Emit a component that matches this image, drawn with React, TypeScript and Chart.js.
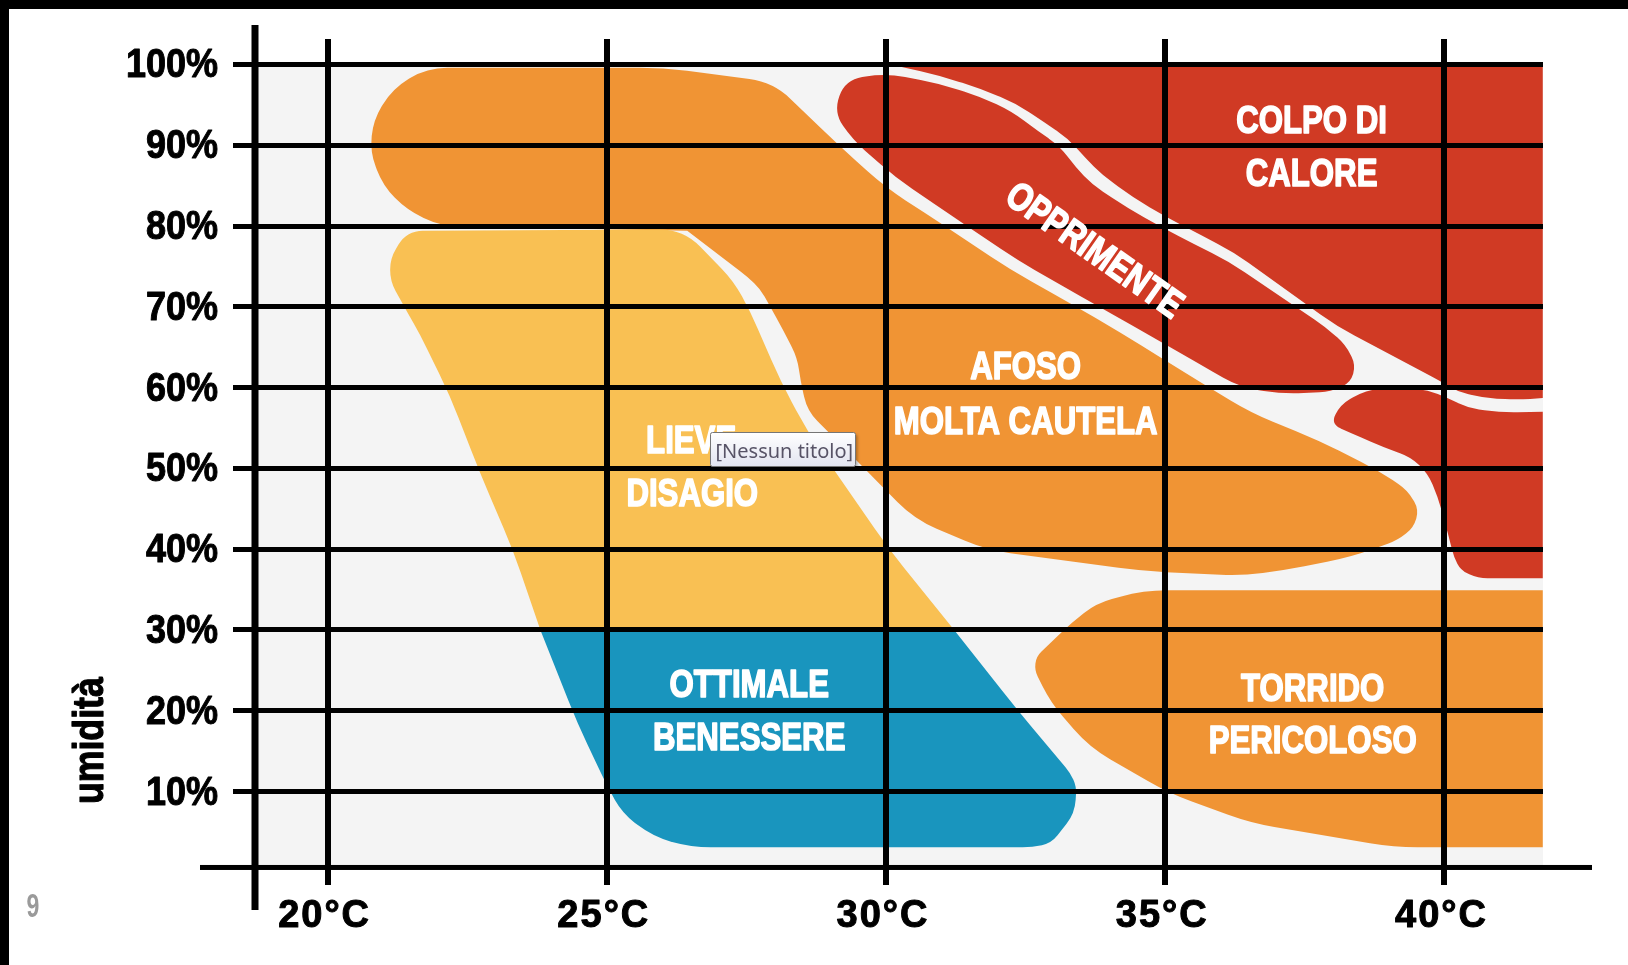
import React, { useEffect, useRef } from "react";
import { Chart, registerables } from "chart.js";

Chart.register(...registerables);

type Pt = [number, number];

// ---------- axes ----------
const X_TICKS = [20, 25, 30, 35, 40];
const X_TICK_LABELS = ["20°C", "25°C", "30°C", "35°C", "40°C"];
const Y_TICKS = [10, 20, 30, 40, 50, 60, 70, 80, 90, 100];
const Y_TICK_LABELS = ["10%", "20%", "30%", "40%", "50%", "60%", "70%", "80%", "90%", "100%"];
const X_MIN = 18.7;
const X_MAX = 41.764;
const Y_MIN = -1.57;
const Y_MAX = 103.15;
const AXIS_H = 0.6; // humidity level where the horizontal axis line sits
const TOP_H = 100; // top of the plotted field
const Y_TITLE = "umidità";
const PAGE_NUMBER = "9";
const OVERLAY_TEXT = "[Nessun titolo]";
const OVERLAY_T = 26.85;
const OVERLAY_H = 54.5;

// ---------- regions: [temperature °C, humidity %] ----------
const AFOSO_AREA: Pt[] = [
  [22.02, 80.0], [21.42, 82.0], [20.99, 85.0], [20.76, 89.2], [20.82, 93.1],
  [21.16, 97.0], [21.78, 99.6], [26.01, 99.6], [27.98, 97.8], [29.15, 90.0],
  [29.99, 84.8], [31.03, 80.1], [32.23, 74.6], [33.36, 70.2], [34.2, 66.8],
  [35.36, 61.8], [36.53, 56.9], [37.73, 53.5], [38.8, 49.8], [39.34, 47.3],
  [39.54, 44.9], [39.45, 42.7], [39.16, 41.1], [38.32, 39.0], [37.12, 37.4],
  [36.37, 36.7], [34.59, 37.3], [31.8, 39.9], [30.51, 43.7], [29.61, 50.0],
  [28.95, 54.6], [28.59, 57.1], [28.47, 60.8], [28.41, 63.7], [28.16, 67.1],
  [27.75, 72.2], [27.52, 73.7], [26.44, 79.4],
];

const LIEVE_AREA: Pt[] = [
  [21.42, 79.4], [26.37, 79.6], [27.27, 73.2], [27.57, 69.4], [28.11, 60.8],
  [28.59, 54.6], [30.04, 40.1], [31.22, 30.0], [23.81, 30.0], [23.32, 39.9],
  [22.73, 49.4], [22.19, 59.0], [21.66, 66.5], [21.42, 69.4], [21.12, 73.2],
  [21.12, 76.0],
];

const OTTIMALE_AREA: Pt[] = [
  [23.81, 30.0], [31.22, 30.0], [32.35, 20.1], [33.3, 12.3], [33.41, 10.6],
  [33.38, 7.3], [32.96, 3.6], [32.62, 3.1], [26.51, 3.1], [25.83, 4.4],
  [25.28, 7.3], [25.01, 10.6], [24.47, 18.5],
];

const TORRIDO_AREA: Pt[] = [
  [34.61, 34.9], [41.76, 34.9], [41.76, 3.1], [39.09, 3.1], [36.53, 6.1],
  [35.06, 9.8], [33.64, 15.5], [32.95, 21.0], [32.66, 25.0], [32.69, 26.7],
  [33.32, 30.9], [33.77, 33.3],
];

const COLPO_AREA: Pt[] = [
  [30.08, 100], [41.76, 100], [41.76, 58.7], [41.31, 58.5], [40.7, 58.7],
  [40.24, 59.5], [39.93, 60.8], [38.07, 67.6], [36.22, 76.8], [35.63, 78.9],
  [35.02, 81.1], [34.43, 83.5], [33.88, 86.3], [33.57, 88.4], [33.25, 90.9],
  [32.82, 92.9], [32.32, 95.2], [31.69, 97.0], [30.97, 98.6],
];

const OPPRIMENTE_AREA: Pt[] = [
  [29.27, 98.1], [29.99, 98.9], [30.97, 97.6], [31.69, 96.0], [32.25, 94.2],
  [32.71, 91.8], [33.11, 89.9], [33.39, 87.3], [33.7, 85.1], [34.33, 82.2],
  [34.92, 79.9], [35.53, 77.7], [36.14, 75.6], [37.87, 67.5], [38.23, 65.3],
  [38.41, 62.8], [38.32, 60.6], [37.96, 59.5], [37.12, 59.2], [36.35, 60.0],
  [35.54, 63.2], [34.38, 67.8], [33.48, 71.3], [32.35, 75.8], [31.15, 81.4],
  [30.17, 86.0], [29.4, 90.7], [29.06, 94.1],
];

const COLPO_LOW_AREA: Pt[] = [
  [37.96, 55.5], [38.14, 57.9], [38.59, 59.7], [39.13, 60.1], [39.7, 59.7],
  [40.06, 58.7], [40.42, 57.5], [41.01, 56.9], [41.76, 57.0], [41.76, 36.4],
  [40.6, 36.4], [40.29, 37.4], [40.17, 39.0], [40.06, 42.0], [39.88, 46.5],
  [39.7, 49.4], [39.4, 51.4], [38.91, 52.6], [38.32, 54.4],
];

// ---------- region labels ----------
const LABEL_TEXTS = [
  "COLPO DI", "CALORE", "OPPRIMENTE", "AFOSO", "MOLTA CAUTELA", "LIEVE",
  "DISAGIO", "OTTIMALE", "BENESSERE", "TORRIDO", "PERICOLOSO",
];
const LABEL_T = [37.62, 37.62, 33.75, 32.5, 32.5, 26.51, 26.53, 27.55, 27.55, 37.64, 37.64];
const LABEL_H = [93.25, 86.69, 77.16, 62.74, 55.93, 53.64, 47.08, 23.43, 16.87, 22.94, 16.5];

// ---------- styles ----------
const REGIONS = [
  { pts: AFOSO_AREA, color: "#F09434", radius: 24, sharp: [37] },
  { pts: LIEVE_AREA, color: "#F9C053", radius: 24, sharp: [7, 8] },
  { pts: OTTIMALE_AREA, color: "#1995BE", radius: 24, sharp: [0, 1] },
  { pts: TORRIDO_AREA, color: "#F09434", radius: 24, sharp: [1, 2] },
  { pts: COLPO_AREA, color: "#D03A24", radius: 20, sharp: [0, 1, 2] },
  { pts: OPPRIMENTE_AREA, color: "#D03A24", radius: 20, sharp: [] as number[] },
  { pts: COLPO_LOW_AREA, color: "#D03A24", radius: 20, sharp: [8, 9] },
];
const LABEL_ROTATION: Record<string, number> = { OPPRIMENTE: 35 };
const LABEL_FONT = 'bold 39px "Liberation Sans", Arial, sans-serif';
const LABEL_SCALE = 0.8;
const TICK_FONT = 'bold 40px "Liberation Sans", Arial, sans-serif';

function roundedPath(ctx: CanvasRenderingContext2D, pts: { x: number; y: number }[], radius: number, sharp: number[]) {
  const n = pts.length;
  for (let i = 0; i < n; i++) {
    const p = pts[(i - 1 + n) % n];
    const c = pts[i];
    const q = pts[(i + 1) % n];
    const d1 = Math.hypot(p.x - c.x, p.y - c.y);
    const d2 = Math.hypot(q.x - c.x, q.y - c.y);
    const d = sharp.includes(i) ? 0 : Math.min(radius, d1 / 2, d2 / 2);
    const ax = c.x + (d1 ? ((p.x - c.x) * d) / d1 : 0);
    const ay = c.y + (d1 ? ((p.y - c.y) * d) / d1 : 0);
    const bx = c.x + (d2 ? ((q.x - c.x) * d) / d2 : 0);
    const by = c.y + (d2 ? ((q.y - c.y) * d) / d2 : 0);
    if (i === 0) ctx.moveTo(ax, ay);
    else ctx.lineTo(ax, ay);
    ctx.quadraticCurveTo(c.x, c.y, bx, by);
  }
  ctx.closePath();
}

const drawPlugin = {
  id: "comfortZones",
  beforeDraw(chart: any) {
    const ctx: CanvasRenderingContext2D = chart.ctx;
    const { left, right } = chart.chartArea;
    const ys = chart.scales.y;
    ctx.save();
    ctx.fillStyle = "#ffffff";
    ctx.fillRect(0, 0, chart.width, chart.height);
    ctx.fillStyle = "#000000";
    ctx.fillRect(0, 0, chart.width, 9);
    ctx.fillRect(0, 0, 9, chart.height);
    const yTop = ys.getPixelForValue(TOP_H);
    const yBase = ys.getPixelForValue(AXIS_H);
    ctx.fillStyle = "#F4F4F4";
    ctx.fillRect(left, yTop, right - left, yBase - yTop);
    REGIONS.forEach((r, i) => {
      const meta = chart.getDatasetMeta(i);
      const pts = meta.data.map((el: any) => ({ x: el.x, y: el.y }));
      ctx.beginPath();
      roundedPath(ctx, pts, r.radius, r.sharp);
      ctx.fillStyle = r.color;
      ctx.fill();
    });
    ctx.restore();
  },
  afterDraw(chart: any) {
    const ctx: CanvasRenderingContext2D = chart.ctx;
    const { left, right, top, bottom } = chart.chartArea;
    const xs = chart.scales.x;
    const ys = chart.scales.y;
    ctx.save();
    // axis lines
    ctx.fillStyle = "#000";
    ctx.fillRect(left - 3.5, top - 14, 7, bottom + 25 - (top - 14));
    const yBase = ys.getPixelForValue(AXIS_H);
    ctx.fillRect(left - 55, yBase - 2.5, right + 49 - (left - 55), 5);

    // y tick labels
    ctx.font = TICK_FONT;
    ctx.fillStyle = "#000";
    ctx.strokeStyle = "#000";
    ctx.lineWidth = 1;
    ctx.lineJoin = "round";
    ctx.textBaseline = "alphabetic";
    Y_TICKS.forEach((v, i) => {
      const y = ys.getPixelForValue(v);
      ctx.save();
      ctx.translate(left - 37, y + 13);
      ctx.scale(0.9, 1);
      ctx.textAlign = "right";
      ctx.fillText(Y_TICK_LABELS[i], 0, 0);
      ctx.strokeText(Y_TICK_LABELS[i], 0, 0);
      ctx.restore();
    });
    // x tick labels
    ctx.font = 'bold 38px "Liberation Sans", Arial, sans-serif';
    (ctx as any).letterSpacing = "2px";
    X_TICKS.forEach((v, i) => {
      const x = xs.getPixelForValue(v);
      ctx.textAlign = "center";
      ctx.fillText(X_TICK_LABELS[i], x - 3, bottom + 42);
      ctx.strokeText(X_TICK_LABELS[i], x - 3, bottom + 42);
    });
    (ctx as any).letterSpacing = "0px";

    // region labels
    ctx.font = LABEL_FONT;
    ctx.fillStyle = "#ffffff";
    ctx.strokeStyle = "#ffffff";
    ctx.lineWidth = 1.6;
    LABEL_TEXTS.forEach((t, i) => {
      const x = xs.getPixelForValue(LABEL_T[i]);
      const y = ys.getPixelForValue(LABEL_H[i]);
      ctx.save();
      ctx.translate(x, y);
      const rot = LABEL_ROTATION[t] || 0;
      if (rot) ctx.rotate((rot * Math.PI) / 180);
      ctx.scale(LABEL_SCALE, 1);
      ctx.textAlign = "center";
      ctx.fillText(t, 0, 14);
      ctx.strokeText(t, 0, 14);
      ctx.restore();
    });

    // y title
    ctx.save();
    ctx.fillStyle = "#000";
    ctx.strokeStyle = "#000";
    ctx.lineWidth = 1.2;
    ctx.font = 'bold 43px "Liberation Sans", Arial, sans-serif';
    ctx.translate(left - 152, ys.getPixelForValue(16.3));
    ctx.rotate(-Math.PI / 2);
    ctx.scale(0.83, 1);
    ctx.textAlign = "center";
    ctx.fillText(Y_TITLE, 0, 0);
    ctx.strokeText(Y_TITLE, 0, 0);
    ctx.restore();

    // page number
    ctx.save();
    ctx.fillStyle = "#9a9a9a";
    ctx.font = 'bold 33px "Liberation Sans", Arial, sans-serif';
    ctx.translate(33, bottom + 32);
    ctx.scale(0.7, 1);
    ctx.textAlign = "center";
    ctx.fillText(PAGE_NUMBER, 0, 0);
    ctx.restore();

    // overlay box
    const bx = Math.round(xs.getPixelForValue(OVERLAY_T)) + 0.5;
    const by = Math.round(ys.getPixelForValue(OVERLAY_H)) + 0.5;
    const bw = 145;
    const bh = 34;
    const rr = 2;
    const boxPath = () => {
      ctx.beginPath();
      ctx.moveTo(bx + rr, by);
      ctx.lineTo(bx + bw - rr, by);
      ctx.quadraticCurveTo(bx + bw, by, bx + bw, by + rr);
      ctx.lineTo(bx + bw, by + bh - rr);
      ctx.quadraticCurveTo(bx + bw, by + bh, bx + bw - rr, by + bh);
      ctx.lineTo(bx + rr, by + bh);
      ctx.quadraticCurveTo(bx, by + bh, bx, by + bh - rr);
      ctx.lineTo(bx, by + rr);
      ctx.quadraticCurveTo(bx, by, bx + rr, by);
      ctx.closePath();
    };
    ctx.save();
    ctx.shadowColor = "rgba(0,0,0,0.3)";
    ctx.shadowBlur = 3;
    ctx.shadowOffsetX = 2;
    ctx.shadowOffsetY = 2;
    const g = ctx.createLinearGradient(0, by, 0, by + bh);
    g.addColorStop(0, "#ffffff");
    g.addColorStop(1, "#e2e4f0");
    ctx.fillStyle = g;
    boxPath();
    ctx.fill();
    ctx.restore();
    ctx.save();
    ctx.strokeStyle = "#767676";
    ctx.lineWidth = 1;
    boxPath();
    ctx.stroke();
    ctx.fillStyle = "#575366";
    ctx.font = '20px "Noto Sans", "DejaVu Sans", sans-serif';
    ctx.textAlign = "left";
    ctx.textBaseline = "alphabetic";
    ctx.fillText(OVERLAY_TEXT, bx + 5, by + 25);
    ctx.restore();

    ctx.restore();
  },
};

export default function App() {
  const ref = useRef<HTMLCanvasElement>(null);
  useEffect(() => {
    const canvas = ref.current;
    if (!canvas) return;
    const chart = new Chart(canvas, {
      type: "scatter",
      data: {
        datasets: REGIONS.map((r) => ({
          data: r.pts.map(([x, y]) => ({ x, y })),
          pointRadius: 0,
          pointHoverRadius: 0,
          showLine: false,
          backgroundColor: r.color,
          borderColor: r.color,
        })),
      },
      options: {
        responsive: false,
        animation: false,
        devicePixelRatio: 1,
        events: [],
        layout: { padding: { left: 105, top: 39, right: 85, bottom: 20 } },
        plugins: { legend: { display: false }, tooltip: { enabled: false } },
        scales: {
          x: {
            type: "linear",
            min: X_MIN,
            max: X_MAX,
            afterBuildTicks: (s: any) => {
              s.ticks = X_TICKS.map((v) => ({ value: v }));
            },
            afterFit: (s: any) => {
              s.height = 60;
            },
            ticks: { display: false },
            grid: { color: "#000", lineWidth: 6, drawTicks: false },
            border: { display: false },
          },
          y: {
            type: "linear",
            min: Y_MIN,
            max: Y_MAX,
            afterBuildTicks: (s: any) => {
              s.ticks = Y_TICKS.map((v) => ({ value: v }));
            },
            afterFit: (s: any) => {
              s.width = 150;
            },
            ticks: { display: false },
            grid: { color: "#000", lineWidth: 5, tickLength: 22, drawTicks: true },
            border: { display: false },
          },
        },
      } as any,
      plugins: [drawPlugin],
    });
    return () => chart.destroy();
  }, []);
  return (
    <div style={{ position: "fixed", left: 0, top: 0, width: 1628, height: 965, background: "#fff" }}>
      <canvas ref={ref} width={1628} height={965} style={{ display: "block", width: 1628, height: 965 }} />
    </div>
  );
}
